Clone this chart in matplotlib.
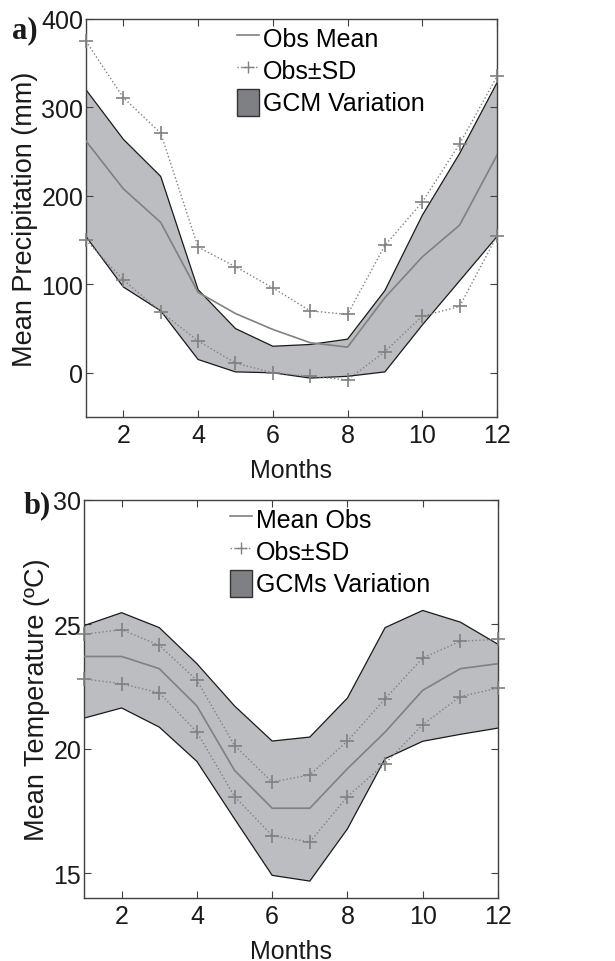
import matplotlib
matplotlib.use("Agg")
import matplotlib.pyplot as plt
from matplotlib.patches import Patch
from matplotlib.lines import Line2D

plt.rcParams['font.family'] = ['Liberation Sans', 'DejaVu Sans']

months = [1, 2, 3, 4, 5, 6, 7, 8, 9, 10, 11, 12]

# Panel a: precipitation (mm)
prec_mean = [262, 208, 170, 91, 67, 49, 34, 29, 85, 131, 167, 246]
prec_plus = [375, 311, 271, 142, 120, 96, 70, 66, 144, 193, 259, 335]
prec_minus = [150, 105, 69, 36, 11, 0, -4, -8, 24, 64, 75, 155]
prec_gcm_hi = [320, 264, 222, 94, 50, 30, 32, 38, 93, 178, 248, 328]
prec_gcm_lo = [154, 97, 70, 15, 1, 0, -6, -4, 1, 54, 104, 154]

# Panel b: temperature (degC)
temp_mean = [23.71, 23.71, 23.22, 21.72, 19.13, 17.61, 17.61, 19.2, 20.67, 22.35, 23.22, 23.42]
temp_plus = [24.6, 24.79, 24.16, 22.75, 20.13, 18.66, 18.95, 20.31, 22.01, 23.65, 24.32, 24.4]
temp_minus = [22.81, 22.61, 22.25, 20.67, 18.08, 16.51, 16.25, 18.08, 19.4, 20.97, 22.1, 22.44]
temp_gcm_hi = [24.95, 25.47, 24.87, 23.42, 21.72, 20.31, 20.47, 22.04, 24.87, 25.56, 25.09, 24.2]
temp_gcm_lo = [21.23, 21.64, 20.87, 19.49, 17.18, 14.91, 14.68, 16.78, 19.6, 20.3, 20.58, 20.83]

FILL = '#bcbdc0'
LEG_FILL = '#7f8084'
LINE = '#808080'
SPINE = '#404040'
FS = 18

fig = plt.figure(figsize=(6.15, 9.62), dpi=100)
ax1 = fig.add_axes([86/615, 1-418/962, 411/615, 398/962])
ax2 = fig.add_axes([84/615, 1-899/962, 414/615, 398/962])


def draw(ax, mean, plus, minus, hi, lo, labels, ylim, yticks, ylabel, legx):
    ax.fill_between(months, lo, hi, facecolor=FILL, edgecolor='none', zorder=1)
    ax.plot(months, hi, color='#1a1a1a', lw=0.9, zorder=2)
    ax.plot(months, lo, color='#1a1a1a', lw=0.9, zorder=2)
    ax.plot(months, mean, color=LINE, lw=1.2, zorder=3)
    ax.plot(months, plus, color=LINE, lw=1.0, ls=':', marker='+', ms=10, mew=1.2, zorder=3, clip_on=False)
    ax.plot(months, minus, color=LINE, lw=1.0, ls=':', marker='+', ms=10, mew=1.2, zorder=3, clip_on=False)
    ax.set_xlim(1, 12)
    ax.set_ylim(*ylim)
    ax.set_xticks([2, 4, 6, 8, 10, 12])
    ax.set_yticks(yticks)
    ax.tick_params(direction='in', top=True, right=True, labelsize=FS, colors=SPINE,
                   labelcolor='#1a1a1a', length=5, pad=2)
    ax.tick_params(axis='x', pad=4)
    for s in ax.spines.values():
        s.set_color(SPINE)
        s.set_linewidth(1.0)
    ax.set_xlabel('Months', fontsize=FS, color='#1a1a1a', labelpad=8)
    ax.set_ylabel(ylabel, fontsize=19.5, color='#1a1a1a', labelpad=2)
    handles = [Line2D([], [], color=LINE, lw=1.2),
               Line2D([], [], color=LINE, lw=1.0, ls=':', marker='+', ms=8, mew=1.0),
               Patch(facecolor=LEG_FILL, edgecolor='#333333', lw=1.0)]
    ax.legend(handles, labels, loc='upper left', bbox_to_anchor=(legx, 1.0), frameon=False,
              fontsize=FS, handlelength=0.9, handletextpad=0.15, labelspacing=0.2,
              borderpad=0.2, borderaxespad=0.0, handleheight=1.3)


draw(ax1, prec_mean, prec_plus, prec_minus, prec_gcm_hi, prec_gcm_lo,
     ['Obs Mean', 'Obs±SD', 'GCM Variation'], (-50, 400), [0, 100, 200, 300, 400],
     'Mean Precipitation (mm)', 0.355)
draw(ax2, temp_mean, temp_plus, temp_minus, temp_gcm_hi, temp_gcm_lo,
     ['Mean Obs', 'Obs±SD', 'GCMs Variation'], (14, 30), [15, 20, 25, 30],
     'Mean Temperature (ºC)', 0.34)

fig.text(12/615, 1-31/962, 'a)', family='Liberation Serif', weight='bold', fontsize=22,
         va='center', ha='left', color='#1a1a1a')
fig.text(24/615, 1-506/962, 'b)', family='Liberation Serif', weight='bold', fontsize=22,
         va='center', ha='left', color='#1a1a1a')

fig.savefig('out.png', dpi=100)
